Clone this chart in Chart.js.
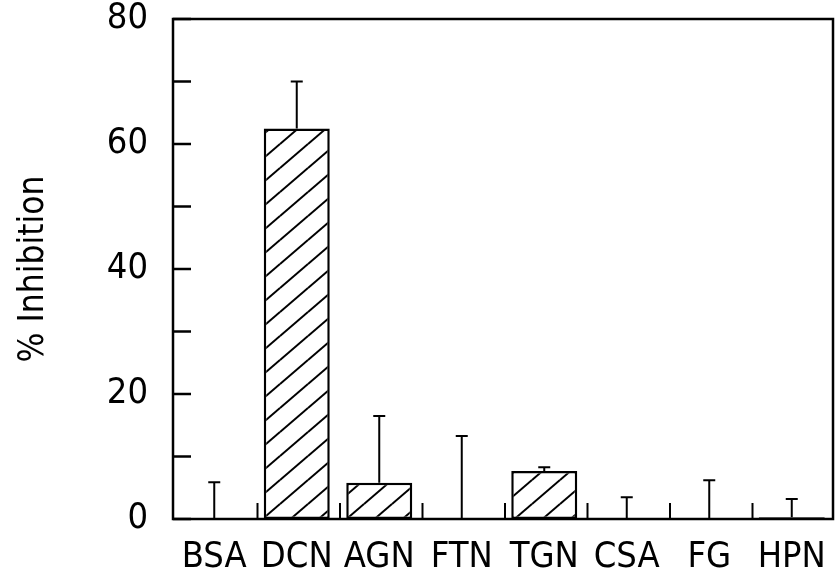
<!DOCTYPE html>
<html lang="en">
<head>
    <meta charset="UTF-8">
    <title>% Inhibition</title>
    <script src="https://cdn.jsdelivr.net/npm/chart.js"></script>
    <style>
        html, body { margin: 0; padding: 0; background: #ffffff; }
        #wrap { width: 836px; height: 577px; }
    </style>
</head>
<body>
    <div id="wrap"><canvas id="inhChart" width="836" height="577"></canvas></div>
    <script>
        // values
        const categories = ['BSA', 'DCN', 'AGN', 'FTN', 'TGN', 'CSA', 'FG', 'HPN'];
        const inhibition = [0, 62.5, 5.8, 0, 7.7, 0, 0, 0.3];
        const errorUp = [5.9, 7.5, 10.7, 13.3, 0.6, 3.5, 6.2, 2.9];
        const yTicks = [0, 20, 40, 60, 80];

        const FONT = "'DejaVu Sans Condensed', 'Liberation Sans Narrow', sans-serif";

        // diagonal hatch "/" used in the bars
        function makeHatch() {
            const w = 28, h = 24;
            const c = document.createElement('canvas');
            c.width = w; c.height = h;
            const g = c.getContext('2d');
            g.fillStyle = '#ffffff';
            g.fillRect(0, 0, w, h);
            g.strokeStyle = '#000000';
            g.lineWidth = 2;
            [[0, 0], [-w, 0], [w, 0], [0, -h], [0, h]].forEach(([dx, dy]) => {
                g.beginPath();
                g.moveTo(dx, h + dy);
                g.lineTo(w + dx, dy);
                g.stroke();
            });
            return g.createPattern(c, 'repeat');
        }

        // frame, inward ticks and the upper error bars
        const extrasPlugin = {
            id: 'extras',
            afterDatasetsDraw: (chart) => {
                const ctx = chart.ctx;
                const a = chart.chartArea;
                const x = chart.scales.x;
                const y = chart.scales.y;
                ctx.save();
                ctx.strokeStyle = '#000000';
                ctx.lineCap = 'butt';

                // error bars
                ctx.lineWidth = 2;
                inhibition.forEach((v, i) => {
                    const px = x.getPixelForValue(i);
                    const top = y.getPixelForValue(v + errorUp[i]);
                    ctx.beginPath();
                    ctx.moveTo(px, y.getPixelForValue(v));
                    ctx.lineTo(px, top);
                    ctx.moveTo(px - 6, top);
                    ctx.lineTo(px + 6, top);
                    ctx.stroke();
                });

                // y ticks every 10, pointing inward
                ctx.lineWidth = 2.5;
                y.ticks.forEach(t => {
                    const py = y.getPixelForValue(t.value);
                    ctx.beginPath();
                    ctx.moveTo(a.left, py);
                    ctx.lineTo(a.left + 18, py);
                    ctx.stroke();
                });

                // x ticks between categories
                ctx.lineWidth = 2;
                for (let i = 0; i < categories.length - 1; i++) {
                    const px = (x.getPixelForValue(i) + x.getPixelForValue(i + 1)) / 2 + 2;
                    ctx.beginPath();
                    ctx.moveTo(px, a.bottom);
                    ctx.lineTo(px, a.bottom - 16);
                    ctx.stroke();
                }

                // box around the plot
                ctx.lineWidth = 2.5;
                ctx.strokeRect(a.left, a.top, a.right - a.left, a.bottom - a.top);
                ctx.restore();
            }
        };

        const ctx = document.getElementById('inhChart').getContext('2d');
        const inhChart = new Chart(ctx, {
            type: 'bar',
            data: {
                labels: categories,
                datasets: [{
                    data: inhibition,
                    backgroundColor: makeHatch(),
                    borderColor: '#000000',
                    borderWidth: 2.5,
                    borderSkipped: false,
                    barPercentage: 0.8,
                    categoryPercentage: 1.0
                }]
            },
            options: {
                responsive: false,
                animation: false,
                devicePixelRatio: 1,
                layout: { padding: { top: 19, right: 3, left: 0, bottom: 0 } },
                plugins: {
                    legend: { display: false },
                    tooltip: { enabled: false }
                },
                scales: {
                    x: {
                        grid: { display: false, drawTicks: false },
                        border: { display: false },
                        ticks: { color: '#000000', font: { family: FONT, size: 36 }, padding: 17, maxRotation: 0 },
                        afterFit: (s) => { s.height = 58; s.paddingLeft = 0; s.paddingRight = 0; }
                    },
                    y: {
                        min: 0, max: 80,
                        grid: { display: false, drawTicks: false },
                        border: { display: false },
                        ticks: {
                            stepSize: 10,
                            color: '#000000',
                            font: { family: FONT, size: 36 },
                            padding: 25,
                            callback: (v) => yTicks.includes(v) ? String(v) : ''
                        },
                        title: {
                            display: true,
                            text: '% Inhibition',
                            color: '#000000',
                            font: { family: FONT, size: 35 },
                            padding: { top: 13, bottom: 0 }
                        },
                        afterFit: (s) => { s.width = 173; s.paddingTop = 0; s.paddingBottom = 0; }
                    }
                }
            },
            plugins: [extrasPlugin]
        });
    </script>
</body>
</html>
